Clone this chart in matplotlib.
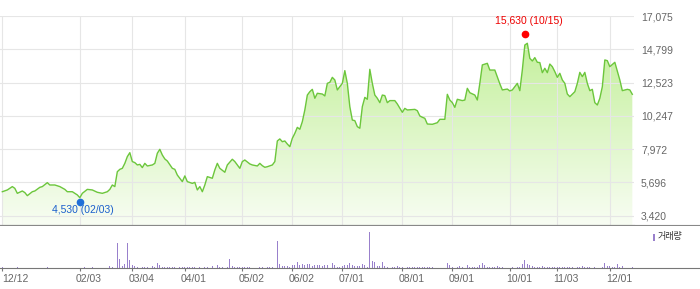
import matplotlib
matplotlib.use('Agg')
import matplotlib.pyplot as plt
import numpy as np
from matplotlib.colors import LinearSegmentedColormap
from matplotlib.transforms import ScaledTranslation, offset_copy
from matplotlib.patches import Rectangle

plt.rcParams['font.family'] = ['Liberation Sans', 'Noto Sans CJK KR']

# closing price (x = trading-day index from 12/12)
price_day = [0, 2, 4, 5, 6, 8, 9, 10, 12, 13, 15, 16, 18, 19, 21, 23, 25, 26, 28, 30,
             31, 32, 34, 36, 38, 40, 42, 43, 44, 45, 46, 47, 48, 49, 50, 51, 52, 53, 54, 55,
             56, 57, 58, 60, 61, 62, 63, 64, 65, 66, 68, 69, 70, 72, 73, 74, 76, 77, 78, 79,
             80, 81, 82, 84, 85, 86, 87, 89, 90, 92, 93, 95, 96, 97, 99, 100, 102, 103, 104, 105,
             106, 108, 109, 110, 111, 112, 113, 114, 115, 116, 117, 118, 119, 120, 121, 122, 123, 124, 125, 126,
             128, 129, 130, 131, 132, 133, 134, 136, 137, 138, 139, 140, 141, 142, 143, 144, 145, 146, 147, 148,
             149, 150, 151, 152, 153, 154, 155, 157, 158, 160, 161, 162, 165, 166, 167, 168, 169, 170, 172, 174,
             175, 177, 178, 179, 180, 181, 182, 184, 185, 186, 187, 189, 190, 191, 192, 194, 195, 197, 199, 200,
             202, 203, 204, 206, 207, 208, 209, 210, 211, 212, 213, 214, 215, 216, 217, 218, 219, 220, 221, 222,
             223, 224, 225, 226, 227, 229, 230, 231, 232, 233, 234, 235, 236, 237, 238, 239, 240, 241, 242, 243,
             245, 247, 248, 250, 251, 252]
price = [5060, 5180, 5410, 5290, 4950, 5110, 5000, 4790, 5060, 5110, 5360, 5410, 5680, 5520, 5520, 5410, 5220, 5060, 5060, 4840,
         4650, 4950, 5220, 5180, 5020, 4950, 5060, 5220, 5520, 5410, 6430, 6590, 6660, 7000, 7460, 7730, 7120, 7050, 6890, 6930,
         6710, 7000, 6820, 6890, 7000, 7690, 7960, 7570, 7300, 7160, 6660, 6590, 6200, 5750, 6140, 5750, 5630, 5700, 5180, 5410,
         5060, 5520, 6090, 5980, 6550, 7000, 6660, 6390, 6890, 7280, 7120, 6660, 7120, 7230, 6960, 6890, 6820, 7000, 6840, 6730,
         6770, 6890, 7120, 8530, 8670, 8480, 8530, 8320, 8140, 8710, 9050, 9460, 9330, 9850, 10650, 11670, 11900, 12060, 11450, 11790,
         11740, 11610, 12470, 12540, 12880, 12700, 12020, 12470, 13340, 12470, 10880, 9960, 9920, 9510, 9400, 10880, 11510, 11380, 13430, 12470,
         11670, 11450, 11150, 11670, 11630, 11150, 11290, 11290, 11060, 10490, 10760, 10650, 10690, 10600, 10240, 10150, 10080, 9690, 9670, 9780,
         10010, 10010, 11720, 11330, 11150, 10830, 11380, 11290, 11330, 12130, 11830, 11670, 11330, 12470, 13730, 13840, 13380, 13380, 12440, 12020,
         12080, 11950, 12020, 12470, 11970, 13380, 15090, 15210, 14180, 14000, 14230, 13910, 13890, 13200, 13500, 13200, 13790, 13610, 13270, 12880,
         13160, 12700, 12470, 11740, 11560, 11900, 12470, 13220, 12930, 13220, 12470, 11970, 12060, 11150, 10990, 11450, 12240, 14070, 14020, 13610,
         13910, 12700, 11970, 12060, 12020, 11720]

# traded volume (relative units)
vol_day = [0, 6, 18, 33, 36, 43, 44, 46, 47, 48, 49, 50, 51, 52, 53, 54, 56, 57, 58, 60,
           61, 62, 63, 64, 65, 66, 67, 68, 69, 71, 72, 73, 74, 75, 76, 77, 79, 81, 82, 84,
           86, 87, 88, 90, 91, 92, 93, 94, 95, 96, 97, 98, 99, 103, 104, 106, 107, 108, 110, 111,
           112, 113, 114, 115, 116, 117, 118, 119, 120, 121, 122, 123, 124, 125, 126, 127, 128, 129, 130, 132,
           133, 134, 135, 136, 137, 138, 139, 140, 141, 142, 143, 144, 145, 146, 147, 148, 149, 150, 151, 152,
           153, 154, 156, 157, 158, 159, 160, 162, 163, 164, 165, 166, 167, 168, 169, 170, 171, 172, 178, 179,
           180, 182, 183, 184, 186, 187, 188, 189, 190, 191, 192, 193, 194, 195, 196, 197, 198, 199, 200, 204,
           206, 207, 208, 209, 210, 211, 212, 213, 214, 215, 216, 217, 218, 219, 220, 221, 222, 223, 224, 225,
           226, 227, 228, 230, 231, 232, 233, 234, 235, 237, 240, 241, 242, 243, 244, 245, 246, 247, 248, 252]
vol = [40, 40, 40, 40, 40, 70, 40, 760, 280, 70, 130, 760, 250, 100, 70, 40, 40, 40, 40, 70,
       40, 160, 100, 40, 40, 40, 40, 40, 40, 40, 40, 40, 40, 40, 40, 40, 40, 40, 40, 70,
       100, 40, 40, 40, 280, 70, 40, 40, 40, 40, 40, 40, 40, 40, 40, 40, 40, 40, 820, 130,
       70, 70, 70, 40, 100, 100, 190, 100, 130, 100, 130, 130, 70, 100, 100, 100, 70, 100, 100, 160,
       100, 40, 40, 70, 100, 100, 160, 100, 70, 70, 70, 130, 100, 40, 1090, 220, 190, 70, 70, 190,
       70, 40, 40, 40, 70, 40, 40, 40, 40, 40, 40, 40, 40, 40, 40, 40, 40, 40, 160, 100,
       40, 40, 70, 40, 100, 40, 40, 40, 40, 100, 160, 100, 40, 40, 40, 40, 70, 40, 40, 40,
       40, 40, 130, 250, 130, 100, 70, 40, 40, 40, 70, 40, 40, 40, 40, 40, 40, 40, 40, 40,
       40, 40, 40, 40, 40, 70, 40, 40, 40, 40, 40, 160, 70, 70, 40, 40, 130, 40, 70, 40]

tick_day = [0, 31, 52, 73, 96, 116, 136, 160, 180, 203, 222, 243]
tick_lab = ['12/12', '02/03', '03/04', '04/01', '05/02', '06/02', '07/01',
            '08/01', '09/01', '10/01', '11/03', '12/01']
price_ticks = [3420, 5696, 7972, 10247, 12523, 14799, 17075]

hi_day, hi_val, hi_lab = 209, 15630, '15,630 (10/15)'
lo_day, lo_val, lo_lab = 31, 4530, '4,530 (02/03)'

fig = plt.figure(figsize=(7, 2.89), dpi=100)
ax = fig.add_axes([0, 64 / 289, 634 / 700, 209 / 289])
axv = fig.add_axes([0, 20.7 / 289, 1, 42.3 / 289])

xmin, xmax = -0.93, 252.67
ymin, ymax = 2784, 17075
ax.set_xlim(xmin, xmax)
ax.set_ylim(ymin, ymax)

# gradient fill under the line
poly = ax.fill_between(price_day, price, ymin, color='none', lw=0)
grad = np.linspace(0, 1, 256).reshape(-1, 1)
cmap = LinearSegmentedColormap.from_list('g', ['#f8fdf3', '#bdee90'])
im = ax.imshow(grad, extent=[xmin, xmax, ymin, ymax], origin='lower',
               aspect='auto', cmap=cmap, zorder=1)
im.set_clip_path(poly.get_paths()[0], transform=ax.transData)

ax.plot(price_day, price, color='#6cc63c', lw=1.0, zorder=3)

ax.set_xticks(tick_day)
ax.set_yticks(price_ticks)
ax.set_yticklabels([f'{v:,}' for v in price_ticks])
ax.set_axisbelow('line')
ax.grid(True, color='#e6e6e6', lw=0.8)
ax.tick_params(axis='x', length=0, labelbottom=False)
ax.yaxis.tick_right()
ax.tick_params(axis='y', length=0, pad=5, labelsize=7.5, labelcolor='#666666')
for s in ['top', 'left', 'right']:
    ax.spines[s].set_visible(False)
ax.spines['bottom'].set_color('#888888')
ax.spines['bottom'].set_linewidth(0.8)
ax.plot([0, 700 / 634], [0, 0], transform=ax.transAxes, color='#888888', lw=0.8, clip_on=False)

# high / low markers
ax.plot(hi_day, hi_val, 'o', color='#ff0000', ms=4.5, zorder=4,
        transform=offset_copy(ax.transData, fig=fig, y=2.2, units='points'))
ax.plot(lo_day, lo_val, 'o', color='#1f6fd8', ms=4.5, zorder=4,
        transform=offset_copy(ax.transData, fig=fig, y=-2.0, units='points'))
ax.annotate(hi_lab, (hi_day, hi_val), xytext=(3.2, 11.6), textcoords='offset points',
            ha='center', va='center', color='#ee0000', fontsize=7.5)
ax.annotate(lo_lab, (lo_day, lo_val), xytext=(2.5, -7.6), textcoords='offset points',
            ha='center', va='center', color='#1a5fcc', fontsize=7.5)

# volume panel
axv.bar(vol_day, vol, width=0.45, color='#9980cc', linewidth=0)
axv.set_xlim(xmin, xmin + 700 / 2.5)
axv.set_ylim(0, 1090 * 42.3 / 36.3)
axv.set_yticks([])
for s in ['top', 'left', 'right']:
    axv.spines[s].set_visible(False)
axv.spines['bottom'].set_color('#777777')
axv.spines['bottom'].set_linewidth(0.8)
axv.set_xticks(tick_day)
axv.set_xticklabels(tick_lab)
axv.tick_params(axis='x', length=2, width=0.8, color='#777777', pad=2,
                labelsize=7.5, labelcolor='#666666')
# labels start just left of their tick; the first one is kept inside the figure
for i, lab in enumerate(axv.get_xticklabels()):
    lab.set_horizontalalignment('left')
    dx = 0.0 if i == 0 else -0.04
    lab.set_transform(lab.get_transform() + ScaledTranslation(dx, 0, fig.dpi_scale_trans))

axv.add_patch(Rectangle((653 / 700, 0.64), 2 / 700, 0.17, transform=axv.transAxes,
                        color='#9980cc', lw=0))
axv.text(658 / 700, 0.74, '거래량', transform=axv.transAxes, fontsize=6.5,
         color='#333333', va='center', ha='left')

fig.savefig('out.png', dpi=100)
